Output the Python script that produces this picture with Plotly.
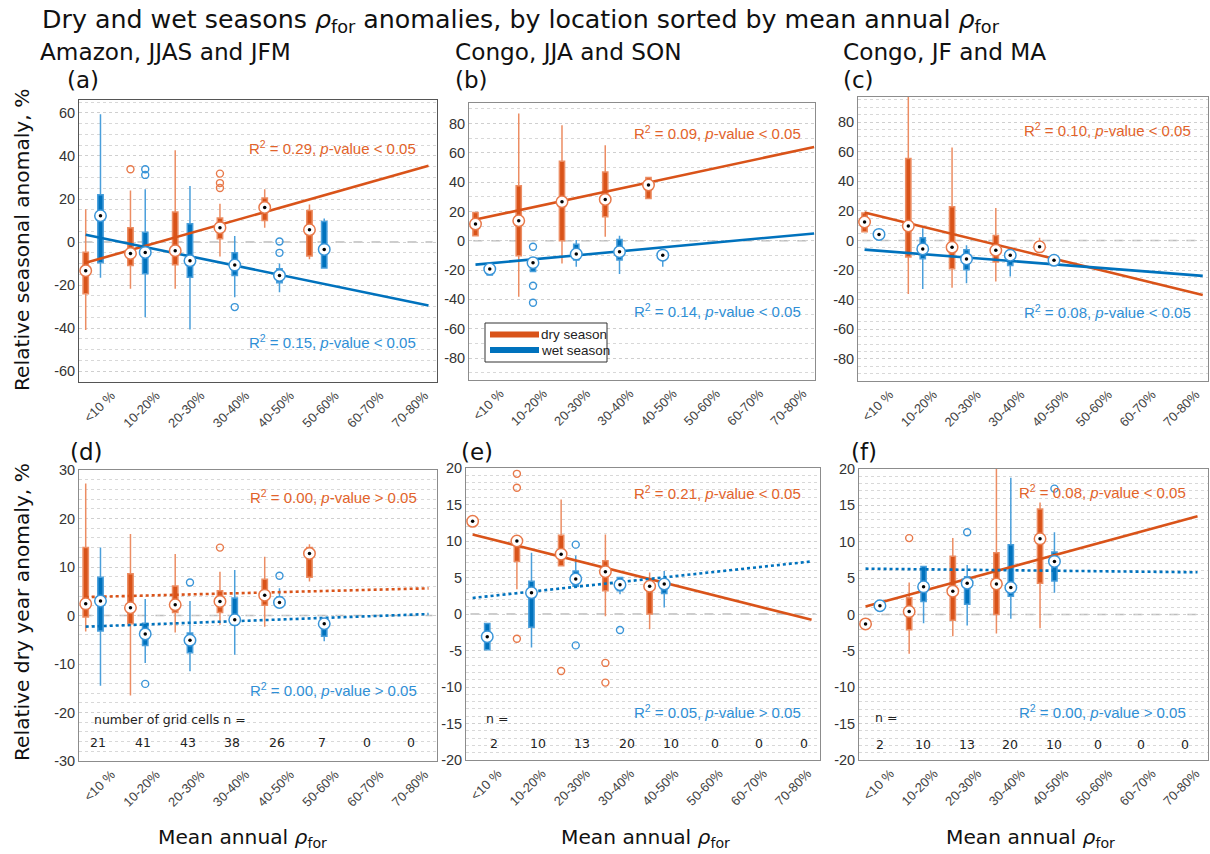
import plotly.graph_objects as go

# ---------------- data ----------------
CATEGORIES = ["<10 %", "10-20%", "20-30%", "30-40%", "40-50%", "50-60%", "60-70%", "70-80%"]

# per category: (lower whisker, q1, median, q3, upper whisker); None = no data
A_DRY = [(-40.8, -24.0, -13.3, -4.7, 15.2), (-21.7, -10.9, -5.3, 6.7, 24.0), (-21.7, -10.5, -4.0, 14.0, 42.6),
         (-6.7, 1.6, 6.7, 11.2, 17.8), (6.7, 10.0, 16.1, 20.5, 24.5), (-8.0, -6.5, 5.7, 14.7, 17.4), None, None]
A_WET = [(-16.6, -9.6, 12.2, 22.0, 59.4), (-34.9, -14.7, -4.8, 4.6, 24.5), (-40.6, -16.3, -8.7, 8.5, 26.0),
         (-25.6, -15.5, -10.7, -5.0, 2.8), (-23.3, -18.9, -15.5, -12.4, -10.0), (-12.0, -12.0, -3.4, 9.6, 10.9), None, None]
A_DRY_OUT = [(1, 33.8), (3, 31.8), (3, 27.4), (3, 25.1)]
A_WET_OUT = [(1, 33.8), (1, 31.2), (3, -30.2), (4, 0.3), (4, -5.0)]
A_FIT_DRY = (-9.6, 35.5)
A_FIT_WET = (3.4, -29.5)

B_DRY = [(3.4, 3.4, 11.4, 19.3, 19.3), (-38.2, -10.2, 13.6, 37.5, 86.8), (-15.5, 0.0, 26.6, 54.3, 78.9),
         (2.7, 16.4, 28.2, 47.0, 65.2), (28.9, 28.9, 38.0, 43.2, 43.2), None, None, None]
B_WET = [(-23.4, -23.4, -19.3, -17.7, -17.7), (-21.0, -21.0, -15.0, -12.0, -12.0), (-17.7, -13.2, -9.1, -2.3, 0.5),
         (-22.7, -13.2, -7.5, 0.9, 3.4), (-17.7, -12.0, -9.8, -8.0, -5.9), None, None, None]
B_DRY_OUT = []
B_WET_OUT = [(1, -4.1), (1, -30.7), (1, -42.3)]
B_FIT_DRY = (14.5, 64.0)
B_FIT_WET = (-16.3, 5.0)

C_DRY = [(5.9, 5.9, 12.5, 18.5, 18.5), (-36.2, -11.2, 9.8, 55.4, 97.0), (-31.9, -19.1, -4.6, 22.8, 62.9),
         (-27.8, -14.6, -6.6, 3.4, 21.9), (-7.2, -6.0, -4.3, -2.0, 1.8), None, None, None]
C_WET = [(2.3, 2.3, 4.1, 5.7, 5.7), (-32.8, -12.3, -5.7, 1.8, 8.2), (-28.9, -19.8, -12.5, -6.2, -3.2),
         (-24.4, -16.9, -10.0, -8.4, -7.3), (None, None, -13.4, None, None), None, None, None]
C_DRY_OUT = []
C_WET_OUT = []
C_FIT_DRY = (18.9, -36.9)
C_FIT_WET = (-6.2, -23.9)

D_DRY = [(-3.3, -0.3, 2.4, 14.0, 27.2), (-16.5, -1.7, 1.6, 8.6, 16.8), (-3.5, 0.6, 2.2, 6.1, 12.7),
         (-1.9, 0.6, 2.9, 5.1, 9.0), (-2.3, 2.1, 4.2, 7.5, 12.1), (7.0, 7.9, 12.8, 14.0, 14.7), None, None]
D_WET = [(-14.5, -3.2, 3.0, 7.9, 14.0), (-9.8, -6.2, -3.8, -1.6, 3.4), (-11.5, -7.7, -5.1, -3.6, 3.0),
         (-8.1, -1.2, -0.9, 3.6, 9.4), (1.5, 2.0, 2.7, 3.8, 5.6), (-5.3, -4.3, -1.7, -1.2, -0.9), None, None]
D_DRY_OUT = [(3, 14.0)]
D_WET_OUT = [(1, -14.1), (2, 6.8), (4, 8.2)]
D_FIT_DRY = (3.8, 5.6)
D_FIT_WET = (-2.3, 0.3)

E_DRY = [(None, None, 12.7, None, None), (3.4, 7.2, 10.0, 10.2, 10.2), (6.5, 6.6, 8.2, 10.8, 15.7),
         (-0.3, 3.2, 5.8, 7.3, 10.9), (-2.1, 0.0, 3.8, 4.1, 5.7), None, None, None]
E_WET = [(-4.9, -4.9, -3.1, -1.3, -1.3), (-4.6, -1.8, 2.9, 4.5, 8.4), (3.8, 3.8, 4.8, 5.9, 8.0),
         (2.7, 3.2, 4.0, 5.0, 5.0), (0.9, 2.8, 4.1, 4.4, 5.9), None, None, None]
E_DRY_OUT = [(1, 19.2), (1, 17.3), (1, -3.4), (2, -7.8), (3, -6.7), (3, -9.4)]
E_WET_OUT = [(2, 9.5), (2, -4.3), (3, -2.2)]
E_FIT_DRY = (10.9, -0.8)
E_FIT_WET = (2.2, 7.2)

F_DRY = [(None, None, -1.3, None, None), (-5.4, -2.1, 0.4, 2.3, 4.4), (-3.0, -0.8, 3.2, 8.0, 10.5),
         (-2.6, 0.0, 4.2, 8.5, 20.2), (-1.9, 4.3, 10.4, 14.5, 15.4), None, None, None]
F_WET = [(None, None, 1.2, None, None), (-1.2, 1.8, 3.8, 6.6, 6.6), (-1.5, 1.4, 4.3, 5.2, 6.8),
         (-0.6, 2.5, 3.7, 9.6, 18.8), (3.0, 4.6, 7.3, 8.6, 11.3), None, None, None]
F_DRY_OUT = [(1, 10.5)]
F_WET_OUT = [(2, 11.3), (4, 17.3)]
F_FIT_DRY = (1.1, 13.5)
F_FIT_WET = (6.3, 5.8)

R2_DRY = ["0.29", "0.09", "0.10", "0.00", "0.21", "0.08"]
P_DRY = ["<", "<", "<", ">", "<", "<"]
R2_WET = ["0.15", "0.14", "0.08", "0.00", "0.05", "0.00"]
P_WET = ["<", "<", "<", ">", ">", ">"]

N_CELLS_D = [21, 41, 43, 38, 26, 7, 0, 0]
N_CELLS_E = [2, 10, 13, 20, 10, 0, 0, 0]
N_CELLS_F = [2, 10, 13, 20, 10, 0, 0, 0]

Y_TICKS = [
    [-60, -40, -20, 0, 20, 40, 60],
    [-80, -60, -40, -20, 0, 20, 40, 60, 80],
    [-80, -60, -40, -20, 0, 20, 40, 60, 80],
    [-30, -20, -10, 0, 10, 20, 30],
    [-20, -15, -10, -5, 0, 5, 10, 15, 20],
    [-20, -15, -10, -5, 0, 5, 10, 15, 20],
]

PANEL_TITLES = ["Amazon, JJAS and JFM", "Congo, JJA and SON", "Congo, JF and MA"]
PANEL_LETTERS = ["(a)", "(b)", "(c)", "(d)", "(e)", "(f)"]
SEASON_NAMES = ["dry season", "wet season"]

DRY_ALL = [A_DRY, B_DRY, C_DRY, D_DRY, E_DRY, F_DRY]
WET_ALL = [A_WET, B_WET, C_WET, D_WET, E_WET, F_WET]
DRY_OUT_ALL = [A_DRY_OUT, B_DRY_OUT, C_DRY_OUT, D_DRY_OUT, E_DRY_OUT, F_DRY_OUT]
WET_OUT_ALL = [A_WET_OUT, B_WET_OUT, C_WET_OUT, D_WET_OUT, E_WET_OUT, F_WET_OUT]
FIT_DRY_ALL = [A_FIT_DRY, B_FIT_DRY, C_FIT_DRY, D_FIT_DRY, E_FIT_DRY, F_FIT_DRY]
FIT_WET_ALL = [A_FIT_WET, B_FIT_WET, C_FIT_WET, D_FIT_WET, E_FIT_WET, F_FIT_WET]

# ---------------- layout / style constants ----------------
W, H = 1210, 854


def fx(t):
    return t / W


def fy(t):
    return 1 - t / H


DOM_X = [(79, 437), (469, 815), (858, 1208), (79, 437), (466, 820), (859, 1208)]
DOM_Y = [(100, 382), (103, 380), (97, 381), (470, 761), (468, 760), (469, 760)]
Y_RANGE = [(-65, 66), (-95, 94), (-95, 97), (-30, 30), (-20, 20), (-20, 20)]
Y_MINOR = [5, 10, 5, 2, 1, 1]
FIT_X_END = [7.81, 7.98, 7.88, 7.81, 7.81, 7.76]
ANN_X = [7.57, 7.73, 7.66, 7.59, 7.61, 7.53]
ANN_Y_DRY = [44, 73.6, 74.7, 24.5, 16.7, 16.9]
ANN_Y_WET = [-46, -47.3, -48.3, -15.3, -13.3, -13.3]
DRY_OFF, WET_OFF = 0.15, 0.48
TICK_OFF = 0.72

DRY_COL, WET_COL = "#D95319", "#0072BD"
DRY_WHISK, WET_WHISK = "#EC8D63", "#4A9FDB"
DRY_TXT, WET_TXT = "#E2632A", "#2F8FD6"
DRY_OUTC, WET_OUTC = "#E8794A", "#3A95D8"
SANS = "Liberation Sans, Arial, sans-serif"
VERD = "DejaVu Sans, Verdana, sans-serif"

fig = go.Figure()


def ax_names(k):
    s = "" if k == 0 else str(k + 1)
    return "x" + s, "y" + s, s


def add_season(k, stats, outs, fit, col, wcol, ocol, off, r2, p, ann_y, txtcol):
    xa, ya, _ = ax_names(k)
    xs, lo, q1, md, q3, hi = [], [], [], [], [], []
    mx, my = [], []
    for i, s in enumerate(stats):
        if s is None:
            continue
        mx.append(i + off)
        my.append(s[2])
        if s[1] is None:
            continue
        xs.append(i + off)
        lo.append(s[0]); q1.append(s[1]); md.append(s[2]); q3.append(s[3]); hi.append(s[4])
    if xs:
        fig.add_trace(go.Box(x=xs, lowerfence=lo, q1=q1, median=md, q3=q3, upperfence=hi,
                             width=0.12, fillcolor=col, line=dict(color=wcol, width=1.5),
                             whiskerwidth=0, boxpoints=False, xaxis=xa, yaxis=ya,
                             showlegend=False, hoverinfo="skip"))
    return dict(xa=xa, ya=ya, mx=mx, my=my, outs=outs, fit=fit, col=col, ocol=ocol, off=off,
                r2=r2, p=p, ann_y=ann_y, txtcol=txtcol)


pending = []
for k in range(6):
    pending.append(add_season(k, DRY_ALL[k], DRY_OUT_ALL[k], FIT_DRY_ALL[k], DRY_COL, DRY_WHISK, DRY_OUTC,
                              DRY_OFF, R2_DRY[k], P_DRY[k], ANN_Y_DRY[k], DRY_TXT) | {"k": k})
    pending.append(add_season(k, WET_ALL[k], WET_OUT_ALL[k], FIT_WET_ALL[k], WET_COL, WET_WHISK, WET_OUTC,
                              WET_OFF, R2_WET[k], P_WET[k], ANN_Y_WET[k], WET_TXT) | {"k": k})

# regression lines
for d in pending:
    k = d["k"]
    fig.add_trace(go.Scatter(x=[DRY_OFF, FIT_X_END[k]], y=list(d["fit"]), mode="lines",
                             line=dict(color=d["col"], width=2.6, dash="solid" if d["p"] == "<" else "dot"),
                             xaxis=d["xa"], yaxis=d["ya"], showlegend=False, hoverinfo="skip"))

# outliers and medians
for d in pending:
    if d["outs"]:
        fig.add_trace(go.Scatter(x=[c + d["off"] for c, _ in d["outs"]], y=[v for _, v in d["outs"]],
                                 mode="markers",
                                 marker=dict(symbol="circle-open", size=7, color=d["ocol"], line=dict(width=1.4)),
                                 xaxis=d["xa"], yaxis=d["ya"], showlegend=False, hoverinfo="skip"))
    fig.add_trace(go.Scatter(x=d["mx"], y=d["my"], mode="markers",
                             marker=dict(symbol="circle", size=11.5, color="white",
                                         line=dict(color=d["ocol"], width=1.5)),
                             xaxis=d["xa"], yaxis=d["ya"], showlegend=False, hoverinfo="skip"))
    fig.add_trace(go.Scatter(x=d["mx"], y=d["my"], mode="markers",
                             marker=dict(symbol="circle", size=3.5, color="black"),
                             xaxis=d["xa"], yaxis=d["ya"], showlegend=False, hoverinfo="skip"))

layout = dict(width=W, height=H, margin=dict(l=0, r=0, t=0, b=0, autoexpand=False),
              paper_bgcolor="white", plot_bgcolor="white", boxmode="overlay", showlegend=False)
shapes = []
annotations = []
for k in range(6):
    xa, ya, s = ax_names(k)
    frame_col = "#555555" if k == 0 else "#8C8C8C"
    layout["xaxis" + s] = dict(domain=[fx(DOM_X[k][0]), fx(DOM_X[k][1])], range=[0, 8], anchor=ya,
                               automargin=False,
                               tickmode="array", tickvals=[i + TICK_OFF for i in range(8)], ticktext=CATEGORIES,
                               tickangle=-45, tickfont=dict(family=SANS, size=13, color="#444"),
                               showgrid=False, zeroline=False, showline=True, mirror=True,
                               linecolor=frame_col, linewidth=1, ticks="")
    layout["yaxis" + s] = dict(domain=[fy(DOM_Y[k][1]), fy(DOM_Y[k][0])], range=list(Y_RANGE[k]),
                               anchor=xa, automargin=False, tickmode="array", tickvals=Y_TICKS[k],
                               ticktext=[str(v) for v in Y_TICKS[k]],
                               tickfont=dict(family=SANS, size=14.5, color="#333"),
                               showgrid=True, gridcolor="#CFCFCF", griddash="dot", gridwidth=1,
                               minor=dict(tickmode="linear", tick0=0, dtick=Y_MINOR[k], showgrid=True,
                                          gridcolor="#D8D8D8", griddash="dot", gridwidth=1, ticks=""),
                               zeroline=False, showline=True, mirror=True, linecolor=frame_col,
                               linewidth=1, ticks="")
    shapes.append(dict(type="line", xref=xa, yref=ya, x0=0.1, x1=7.9, y0=0, y1=0, layer="below",
                       line=dict(color="#BDBDBD", width=1.5, dash="dash")))

for d in pending:
    annotations.append(dict(xref=d["xa"], yref=d["ya"], x=ANN_X[d["k"]], y=d["ann_y"],
                            xanchor="right", yanchor="middle", showarrow=False,
                            text="R<sup>2</sup> = %s, <i>p</i>-value %s 0.05" % (
                                d["r2"], "&lt;" if d["p"] == "<" else "&gt;"),
                            font=dict(family=SANS, size=15, color=d["txtcol"])))

# number of grid cells rows
N_ALL = [(3, N_CELLS_D, 0.43, "number of grid cells n =", 0.28, "left", -21.4, -26.2),
         (4, N_CELLS_E, 0.63, "n =", 0.69, "center", -14.3, -17.8),
         (5, N_CELLS_F, 0.47, "n =", 0.62, "center", -14.2, -17.9)]
for k, ns, noff, lab, lx, lanchor, ly, ny in N_ALL:
    xa, ya, _ = ax_names(k)
    annotations.append(dict(xref=xa, yref=ya, x=lx, y=ly, xanchor=lanchor, yanchor="middle",
                            showarrow=False, text=lab, font=dict(family=VERD, size=12.5, color="#222")))
    for i, n in enumerate(ns):
        annotations.append(dict(xref=xa, yref=ya, x=i + noff, y=ny, xanchor="center", yanchor="middle",
                                showarrow=False, text=str(n), font=dict(family=VERD, size=12.5, color="#222")))


def paper_text(x, y, text, size, anchor="left", angle=0, family=VERD, color="#111"):
    annotations.append(dict(xref="paper", yref="paper", x=fx(x), y=fy(y), xanchor=anchor,
                            yanchor="middle", showarrow=False, text=text, textangle=angle,
                            font=dict(family=family, size=size, color=color)))


def paper_shape(kind, x0, y0, x1, y1, **kw):
    shapes.append(dict(type=kind, xref="paper", yref="paper", layer="above",
                       x0=fx(x0), x1=fx(x1), y0=fy(y0), y1=fy(y1), **kw))


paper_text(40, 21, "Dry and wet seasons <i>ρ</i><sub>for</sub> anomalies, by location sorted by mean annual "
                   "<i>ρ</i><sub>for</sub>", 25.3)
for x, t in zip([38, 453, 841], PANEL_TITLES):
    paper_text(x, 52, t, 23.2)
for (x, y), t in zip([(65, 80), (453, 80), (841, 80), (68, 452), (459, 452), (849, 452)], PANEL_LETTERS):
    paper_text(x, y, t, 23)
paper_text(22, 240, "Relative seasonal anomaly, %", 20.2, "center", -90)
paper_text(22, 612, "Relative dry year anomaly, %", 20.2, "center", -90)
for x in [242, 645, 1030]:
    paper_text(x, 838, "Mean annual <i>ρ</i><sub>for</sub>", 20.2, "center")

# legend box in panel (b)
paper_shape("rect", 485, 323, 607, 362, line=dict(color="#333333", width=1), fillcolor="white")
for (ly, col), name in zip([(334.5, DRY_COL), (350, WET_COL)], SEASON_NAMES):
    paper_shape("line", 490, ly, 539, ly, line=dict(color=col, width=6))
    paper_text(539, ly, name, 13.5, "left", family=SANS, color="#222")

layout["shapes"] = shapes
layout["annotations"] = annotations
fig.update_layout(**layout)
fig.write_html("out.html", config={"displayModeBar": False},
               post_script="document.body.style.margin='0px';document.body.style.overflow='hidden';")
